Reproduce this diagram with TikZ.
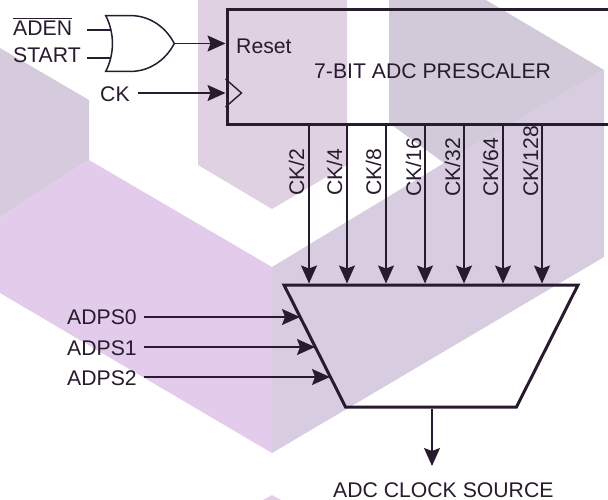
\documentclass[tikz,border=0pt]{standalone}
\usepackage{amsmath,amssymb}
\usepackage{xcolor}
\usepackage{fontspec}
\setmainfont{Liberation Sans}
\usepackage{tikz}
\usetikzlibrary{arrows.meta,positioning,calc,shapes.geometric,shapes.gates.logic.US}

\definecolor{ink}{HTML}{271B2E}
\definecolor{hexpurple}{HTML}{E3CCEB}
\definecolor{hexlilac}{HTML}{D8CCE0}
\definecolor{hexgrey}{HTML}{D2CAD8}
\definecolor{hexmauve}{HTML}{DFD1E1}
\definecolor{hexleft}{HTML}{D5CBDC}

\begin{document}
\begin{tikzpicture}[
    x=1pt, y=-1pt,
    block/.style={draw=ink, line width=3pt, inner sep=0pt},
    muxshape/.style={draw=ink, line width=3pt, trapezium, trapezium stretches=true, shape border rotate=180, trapezium left angle=70.2, trapezium right angle=70.2, inner sep=2pt, minimum width=294pt, minimum height=122pt},
    gate/.style={or gate US, draw=ink, line width=1.5pt, logic gate inputs=nn, logic gate input sep=18.6pt, inner sep=0pt, xscale=.9, transform shape},
    flow/.style={-{Stealth[length=18pt,width=16pt,inset=3pt]}, draw=ink, line width=1.4pt},
    wire/.style={draw=ink, line width=1.4pt},
    lab/.style={font=\fontsize{21.2}{24}\selectfont, text=ink, inner sep=0pt, anchor=base west},
    ratelab/.style={lab, rotate=90}
]
\useasboundingbox (0,0) rectangle (608,500);
\fill[white] (0,0) rectangle (608,500);
\fill[hexleft] (0,48) -- (89,100) -- (89,160) -- (0,217) -- cycle;
\fill[hexmauve] (198,0) -- (347,0) -- (347,165) -- (272,209) -- (198,165) -- cycle;
\fill[hexgrey] (389,0) -- (486,0) -- (604,70) -- (444,163) -- (389,123) -- cycle;
\fill[hexpurple] (89,160) -- (272,267) -- (272,453) -- (0,293) -- (0,217) -- cycle;
\fill[hexlilac] (272,267) -- (444,163) -- (604,70) -- (604,257) -- (272,453) -- cycle;
\fill[hexmauve] (272,495) -- (281,500) -- (263,500) -- cycle;

\node[block, minimum width=426pt, minimum height=115pt] (box) at (440,67) {};
\node[muxshape] (mux) at (431,346) {};
\node[gate] (orgate) at (135,43.5) {};

\node[lab] (aden) at (13,36) {$\overline{\mbox{ADEN}}$};
\node[lab] (start) at (13,63) {START};
\node[lab] (ck) at (100,102) {CK};
\node[lab] (reset) at (236,54) {Reset};
\node[lab] (title) at (314,79) {7-BIT ADC PRESCALER};
\node[lab] (adps0) at (67,324) {ADPS0};
\node[lab] (adps1) at (67,355) {ADPS1};
\node[lab] (adps2) at (67,385) {ADPS2};
\node[lab] (source) at (333,497) {ADC CLOCK SOURCE};
\node[ratelab] (ck2) at (304,196) {CK/2};
\node[ratelab] (ck4) at (342,196) {CK/4};
\node[ratelab] (ck8) at (381,196) {CK/8};
\node[ratelab] (ck16) at (421,197) {CK/16};
\node[ratelab] (ck32) at (460,197) {CK/32};
\node[ratelab] (ck64) at (498,197) {CK/64};
\node[ratelab] (ck128) at (538,197) {CK/128};

\coordinate (adenend) at (87,30);
\coordinate (startend) at (87,58);
\coordinate (ckstart) at (138,93);
\coordinate (sel0start) at (144,317);
\coordinate (sel1start) at (144,347);
\coordinate (sel2start) at (144,377);
\coordinate (sel0) at (300,317);
\coordinate (sel1) at (315,347);
\coordinate (sel2) at (330,377);
\coordinate (clkpin) at (ckstart -| box.west);
\coordinate (clkout) at (432,466);
\coordinate (tap2) at (309,123);
\coordinate (tap4) at (347,123);
\coordinate (tap8) at (386,123);
\coordinate (tap16) at (425,123);
\coordinate (tap32) at (464,123);
\coordinate (tap64) at (503,123);
\coordinate (tap128) at (542,123);

\draw[wire] (adenend) -- (adenend -| orgate.input 1);
\draw[wire] (startend) -- (startend -| orgate.input 2);
\draw[flow] (orgate.output) -- (orgate.output -| box.west);
\draw[flow] (ckstart) -- (clkpin);
\draw[wire] ([yshift=14pt]clkpin) -- ([xshift=16pt]clkpin) -- ([yshift=-14pt]clkpin);
\draw[flow] (tap2) -- (tap2 |- mux.north);
\draw[flow] (tap4) -- (tap4 |- mux.north);
\draw[flow] (tap8) -- (tap8 |- mux.north);
\draw[flow] (tap16) -- (tap16 |- mux.north);
\draw[flow] (tap32) -- (tap32 |- mux.north);
\draw[flow] (tap64) -- (tap64 |- mux.north);
\draw[flow] (tap128) -- (tap128 |- mux.north);
\draw[flow] (sel0start) -- (sel0);
\draw[flow] (sel1start) -- (sel1);
\draw[flow] (sel2start) -- (sel2);
\draw[flow] (clkout |- mux.south) -- (clkout);
\end{tikzpicture}
\end{document}
